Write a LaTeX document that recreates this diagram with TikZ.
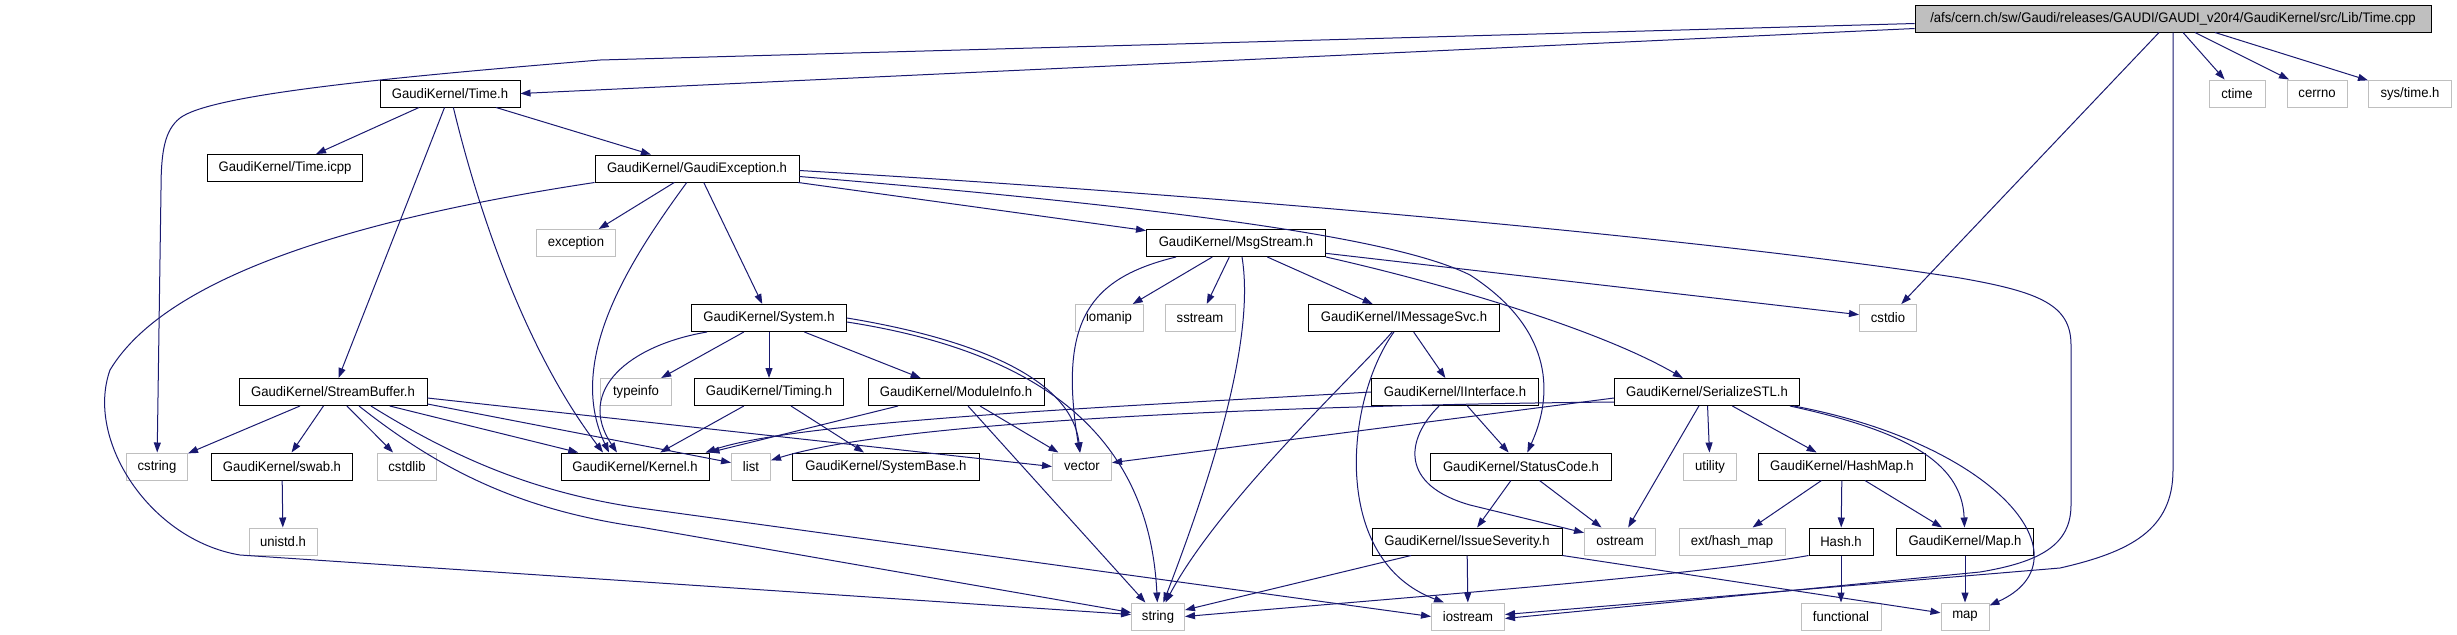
\documentclass[tikz,border=0pt]{standalone}
\usepackage{fontspec}
\setmainfont{Liberation Sans}[FakeStretch=0.95]
\usetikzlibrary{arrows.meta}
\definecolor{edgeBlue}{RGB}{25,25,112}
\definecolor{boxGrey}{RGB}{191,191,191}

\begin{document}
\begin{tikzpicture}[x=0.5pt, y=-0.5pt,
    filebox/.style={draw=black, line width=0.5pt, inner sep=0pt, minimum height=13.5pt, font=\fontsize{6.9}{8}\selectfont},
    hdrbox/.style={filebox, fill=white},
    sysbox/.style={filebox, draw=boxGrey, fill=white},
    rootbox/.style={filebox, fill=boxGrey},
    inc/.style={edgeBlue, line width=0.5pt, -{Triangle[length=5pt,width=3.5pt]}}]
        \useasboundingbox (0,0) rectangle (2457,634);
        \node[rootbox, minimum width=258pt] (timecpp) at (2173,18.5) {/afs/cern.ch/sw/Gaudi/releases/GAUDI/GAUDI\_v20r4/GaudiKernel/src/Lib/Time.cpp};
        \node[sysbox, minimum width=28pt] (ctime) at (2237,93.5) {ctime};
        \node[sysbox, minimum width=30pt] (cerrno) at (2317,93.5) {cerrno};
        \node[sysbox, minimum width=41.5pt] (systime) at (2410,93.5) {sys/time.h};
        \node[hdrbox, minimum width=70pt] (timeh) at (450,93.5) {GaudiKernel/Time.h};
        \node[hdrbox, minimum width=77.5pt] (timeicpp) at (285,168) {GaudiKernel/Time.icpp};
        \node[hdrbox, minimum width=102pt] (gaudiexc) at (697,168.5) {GaudiKernel/GaudiException.h};
        \node[sysbox, minimum width=39.5pt] (exception) at (576,243) {exception};
        \node[hdrbox, minimum width=89.5pt] (msgstream) at (1236,243) {GaudiKernel/MsgStream.h};
        \node[hdrbox, minimum width=77.5pt] (system) at (769,318) {GaudiKernel/System.h};
        \node[sysbox, minimum width=34pt] (iomanip) at (1109,318) {iomanip};
        \node[sysbox, minimum width=35pt] (sstream) at (1200,318) {sstream};
        \node[hdrbox, minimum width=95.5pt] (imsgsvc) at (1404,318) {GaudiKernel/IMessageSvc.h};
        \node[sysbox, minimum width=28.5pt] (cstdio) at (1888,318) {cstdio};
        \node[hdrbox, minimum width=94pt] (streambuf) at (333,392) {GaudiKernel/StreamBuffer.h};
        \node[sysbox, minimum width=35.5pt] (typeinfo) at (636,392) {typeinfo};
        \node[hdrbox, minimum width=74.5pt] (timing) at (769,392) {GaudiKernel/Timing.h};
        \node[hdrbox, minimum width=88pt] (moduleinfo) at (956,392) {GaudiKernel/ModuleInfo.h};
        \node[hdrbox, minimum width=83.5pt] (iinterface) at (1455,392) {GaudiKernel/IInterface.h};
        \node[hdrbox, minimum width=92.5pt] (serialize) at (1707,392) {GaudiKernel/SerializeSTL.h};
        \node[sysbox, minimum width=30.5pt] (cstring) at (157,466.5) {cstring};
        \node[hdrbox, minimum width=70.5pt] (swab) at (282,466.5) {GaudiKernel/swab.h};
        \node[sysbox, minimum width=29.5pt] (cstdlib) at (407,466.5) {cstdlib};
        \node[hdrbox, minimum width=74pt] (kernelh) at (635,466.5) {GaudiKernel/Kernel.h};
        \node[sysbox, minimum width=19.5pt] (list) at (751,466.5) {list};
        \node[hdrbox, minimum width=93.5pt] (systembase) at (886,466.5) {GaudiKernel/SystemBase.h};
        \node[sysbox, minimum width=29.5pt] (vector) at (1082,466.5) {vector};
        \node[hdrbox, minimum width=90.5pt] (statuscode) at (1521,466.5) {GaudiKernel/StatusCode.h};
        \node[sysbox, minimum width=26.5pt] (utility) at (1710,466.5) {utility};
        \node[hdrbox, minimum width=83.5pt] (hashmap) at (1842,466.5) {GaudiKernel/HashMap.h};
        \node[sysbox, minimum width=34pt] (unistd) at (283,541.5) {unistd.h};
        \node[hdrbox, minimum width=95pt] (issue) at (1467,541.5) {GaudiKernel/IssueSeverity.h};
        \node[sysbox, minimum width=35.5pt] (ostream) at (1620,541.5) {ostream};
        \node[sysbox, minimum width=53pt] (exthashmap) at (1732,541.5) {ext/hash\_map};
        \node[hdrbox, minimum width=32pt] (hashh) at (1841,541.5) {Hash.h};
        \node[hdrbox, minimum width=68.5pt] (maph) at (1965,541.5) {GaudiKernel/Map.h};
        \node[sysbox, minimum width=26.5pt] (string) at (1158,616.5) {string};
        \node[sysbox, minimum width=36.5pt] (iostream) at (1468,616.5) {iostream};
        \node[sysbox, minimum width=40pt] (functional) at (1841,616.5) {functional};
        \node[sysbox, minimum width=24pt] (map) at (1965,616.5) {map};

        \draw[inc] ([yshift=-5pt]timecpp.west) -- (timeh.east);
        \draw[inc] ([yshift=-2.5pt]timecpp.west) -- (600,60) .. controls (380,78) and (210,95) .. (180,118) .. controls (165,130) and (161,150) .. (161,190) -- (cstring);
        \draw[inc] ([xshift=-7pt]timecpp.south) -- (cstdio);
        \draw[inc] (timecpp.south) -- (2173,470) .. controls (2173,530) and (2130,552) .. (2060,568) -- ([yshift=1pt]iostream.east);
        \draw[inc] ([xshift=5pt]timecpp.south) -- (ctime);
        \draw[inc] ([xshift=11pt]timecpp.south) -- (cerrno);
        \draw[inc] ([xshift=21pt]timecpp.south) -- (systime);

        \draw[inc] (timeh) -- (timeicpp);
        \draw[inc] (timeh) -- (gaudiexc);
        \draw[inc] (timeh) -- (streambuf);
        \draw[inc] (timeh) .. controls (478,210) and (525,350) .. ([xshift=-16pt]kernelh.north);

        \draw[inc] (gaudiexc) -- (exception);
        \draw[inc] (gaudiexc) .. controls (630,260) and (565,360) .. ([xshift=-13pt]kernelh.north);
        \draw[inc] (gaudiexc) -- (system);
        \draw[inc] (gaudiexc) -- (msgstream);
        \draw[inc] (gaudiexc.south west) .. controls (380,215) and (170,270) .. (110,370) .. controls (85,440) and (150,540) .. (240,555) -- ([yshift=1pt]string.west);
        \draw[inc] ([yshift=-1pt]gaudiexc.east) .. controls (1300,200) and (1750,245) .. (1960,278) .. controls (2040,292) and (2071,305) .. (2071,345) -- (2071,505) .. controls (2071,545) and (2040,562) .. (1980,572) -- ([yshift=-1pt]iostream.east);
        \draw[inc] ([yshift=-4pt]gaudiexc.east) .. controls (1200,210) and (1400,240) .. (1470,275) .. controls (1540,320) and (1560,380) .. (statuscode);

        \draw[inc] (msgstream) -- (iomanip);
        \draw[inc] (msgstream) -- (sstream);
        \draw[inc] ([xshift=3pt]msgstream.south) .. controls (1254,330) and (1222,450) .. (string);
        \draw[inc] ([xshift=-30pt]msgstream.south) .. controls (1090,278) and (1058,320) .. (vector);
        \draw[inc] (msgstream) -- (imsgsvc);
        \draw[inc] (msgstream) -- (cstdio);
        \draw[inc] (msgstream.south east) .. controls (1450,285) and (1600,330) .. (serialize);

        \draw[inc] (system) -- (typeinfo);
        \draw[inc] (system) -- (timing);
        \draw[inc] (system) -- (moduleinfo);
        \draw[inc] ([xshift=-31pt]system.south) .. controls (630,345) and (575,390) .. ([xshift=-9pt]kernelh.north);
        \draw[inc] (system.east) .. controls (950,335) and (1070,370) .. (vector);
        \draw[inc] ([yshift=-2pt]system.east) .. controls (1060,355) and (1150,450) .. (string);

        \draw[inc] (timing) -- (kernelh);
        \draw[inc] (timing) -- (systembase);
        \draw[inc] ([xshift=-29pt]moduleinfo.south) -- (kernelh.north east);
        \draw[inc] ([xshift=6pt]moduleinfo.south) -- (string);
        \draw[inc] ([xshift=12pt]moduleinfo.south) -- (vector);

        \draw[inc] (streambuf) -- (cstring);
        \draw[inc] (streambuf) -- (swab);
        \draw[inc] (streambuf) -- (cstdlib);
        \draw[inc] (streambuf) -- (kernelh);
        \draw[inc] ([yshift=-6pt]streambuf.east) -- (list);
        \draw[inc] ([yshift=-3pt]streambuf.east) -- (vector.west);
        \draw[inc] ([xshift=13pt]streambuf.south) .. controls (440,470) and (520,510) .. (640,527) -- ([yshift=2pt]string.west);
        \draw[inc] ([xshift=19pt]streambuf.south) .. controls (450,455) and (530,492) .. (640,508) -- (iostream.west);
        \draw[inc] (swab) -- (unistd);

        \draw[inc] (imsgsvc) -- (iinterface);
        \draw[inc] (imsgsvc) .. controls (1360,370) and (1220,500) .. (string);
        \draw[inc] (imsgsvc) .. controls (1345,400) and (1330,560) .. ([xshift=-12pt]iostream.north);

        \draw[inc] (iinterface) -- (statuscode);
        \draw[inc] ([xshift=-8pt]iinterface.south) .. controls (1405,440) and (1400,485) .. (1470,505) -- (ostream);
        \draw[inc] (iinterface.west) .. controls (1150,405) and (800,420) .. ([xshift=-2pt]kernelh.north east);

        \draw[inc] ([yshift=-5pt]serialize.west) .. controls (1300,405) and (900,420) .. (list);
        \draw[inc] ([yshift=-3pt]serialize.west) -- (vector);
        \draw[inc] (serialize) -- (utility);
        \draw[inc] (serialize) -- (hashmap);
        \draw[inc] (serialize) -- (ostream);
        \draw[inc] ([xshift=-5pt]serialize.south east) .. controls (1900,430) and (1962,460) .. (maph);
        \draw[inc] ([xshift=-3pt]serialize.south east) .. controls (2000,445) and (2090,560) .. (map);

        \draw[inc] (statuscode) -- (issue);
        \draw[inc] (statuscode) -- (ostream);
        \draw[inc] (hashmap) -- (exthashmap);
        \draw[inc] (hashmap) -- (hashh);
        \draw[inc] (hashmap) -- (maph);
        \draw[inc] (hashh) -- (functional);
        \draw[inc] (hashh.south west) .. controls (1700,575) and (1400,598) .. (string.east);
        \draw[inc] (maph) -- (map);
        \draw[inc] (issue) -- (iostream);
        \draw[inc] ([xshift=-28pt]issue.south) -- (string);
        \draw[inc] (issue.south east) -- (map);
      \end{tikzpicture}
\end{document}
